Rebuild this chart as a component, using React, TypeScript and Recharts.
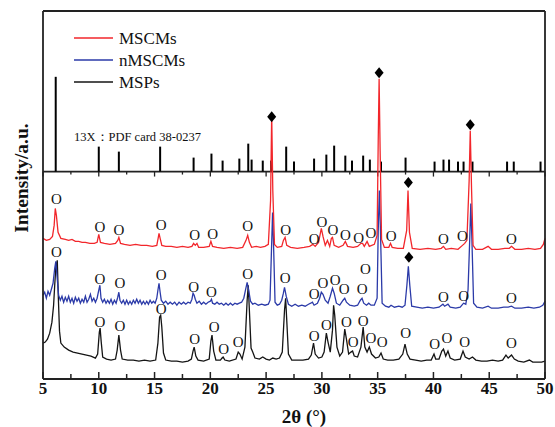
import React from 'react';
import { ComposedChart, Line, Scatter, XAxis, YAxis, ReferenceLine, Label } from 'recharts';

// intensity in arbitrary units
const MSCMS: [number, number][] = [
  [5.0, 141], [5.3, 139], [5.6, 140], [5.85, 143], [6.0, 154], [6.1, 171], [6.2, 164], [6.35, 147], [6.6, 141],
  [7.0, 140], [7.3, 139], [7.6, 140], [7.9, 138], [8.2, 138], [8.5, 137], [8.8, 137], [9.2, 136], [9.6, 136],
  [9.85, 137], [10.0, 145], [10.15, 137], [10.5, 136], [11.0, 135], [11.5, 136], [11.7, 139], [11.8, 142],
  [11.95, 136], [12.3, 135], [12.8, 134], [13.3, 135], [13.8, 134], [14.3, 134], [14.8, 133], [15.2, 134],
  [15.32, 141], [15.4, 146], [15.5, 141], [15.65, 134], [16.0, 133], [16.5, 133], [17.0, 132], [17.5, 133],
  [18.0, 132], [18.35, 133], [18.5, 136], [18.65, 134], [18.8, 136], [18.95, 132], [19.4, 132], [19.9, 133],
  [20.05, 138], [20.2, 133], [20.6, 132], [21.2, 131], [21.8, 132], [22.4, 131], [22.9, 132], [23.2, 139],
  [23.35, 144], [23.5, 137], [23.7, 132], [24.1, 133], [24.5, 132], [24.9, 133], [25.2, 135], [25.4, 179],
  [25.5, 266], [25.6, 189], [25.75, 135], [26.0, 132], [26.4, 133], [26.55, 139], [26.7, 142], [26.85, 134],
  [27.2, 132], [27.8, 131], [28.4, 132], [28.9, 133], [29.2, 135], [29.4, 133], [29.7, 137], [29.95, 151],
  [30.1, 143], [30.3, 134], [30.5, 139], [30.7, 133], [30.85, 141], [30.95, 142], [31.1, 134], [31.5, 132],
  [31.9, 134], [32.1, 138], [32.3, 133], [32.8, 132], [33.2, 133], [33.5, 136], [33.65, 136], [33.8, 133],
  [34.05, 138], [34.25, 133], [34.7, 135], [34.95, 144], [35.05, 239], [35.13, 301], [35.22, 229], [35.35, 140],
  [35.6, 132], [36.0, 132], [36.15, 136], [36.3, 132], [36.8, 131], [37.3, 131], [37.6, 149], [37.72, 189],
  [37.85, 147], [38.1, 131], [38.8, 130], [39.5, 131], [40.2, 130], [40.7, 131], [40.9, 133], [41.1, 130],
  [41.6, 131], [42.2, 130], [42.6, 134], [42.8, 136], [43.0, 139], [43.2, 199], [43.3, 249], [43.42, 189],
  [43.55, 134], [43.8, 130], [44.4, 130], [44.9, 133], [45.2, 130], [45.8, 130], [46.4, 131], [46.8, 131],
  [47.0, 133], [47.3, 130], [47.9, 130], [48.5, 131], [49.1, 130], [49.6, 131], [49.85, 135], [50.0, 141],
];

const NMSCMS: [number, number][] = [
  [5.0, 84], [5.15, 87], [5.3, 81], [5.45, 88], [5.6, 84], [5.75, 90], [5.9, 96], [6.05, 111], [6.15, 118],
  [6.25, 104], [6.4, 84], [6.55, 79], [6.7, 83], [6.85, 77], [7.0, 82], [7.15, 78], [7.3, 83], [7.45, 77],
  [7.6, 81], [7.75, 76], [7.9, 82], [8.05, 78], [8.2, 81], [8.35, 76], [8.5, 80], [8.65, 77], [8.8, 83],
  [8.95, 77], [9.1, 80], [9.25, 85], [9.4, 78], [9.55, 81], [9.7, 77], [9.85, 81], [10.0, 89], [10.1, 94],
  [10.2, 81], [10.35, 77], [10.5, 80], [10.65, 76], [10.8, 79], [10.95, 76], [11.1, 80], [11.25, 75],
  [11.4, 79], [11.55, 76], [11.7, 82], [11.8, 87], [11.9, 79], [12.05, 76], [12.2, 79], [12.35, 75],
  [12.5, 79], [12.65, 75], [12.8, 78], [12.95, 75], [13.1, 79], [13.25, 76], [13.4, 80], [13.55, 76],
  [13.7, 79], [13.85, 75], [14.0, 78], [14.15, 75], [14.3, 78], [14.45, 75], [14.6, 79], [14.75, 76],
  [14.9, 78], [15.05, 76], [15.2, 81], [15.3, 89], [15.4, 96], [15.5, 87], [15.6, 79], [15.8, 76], [16.0, 78],
  [16.2, 75], [16.4, 77], [16.6, 75], [16.8, 77], [17.0, 74], [17.2, 77], [17.4, 75], [17.6, 77], [17.8, 75],
  [18.0, 77], [18.2, 76], [18.35, 80], [18.45, 86], [18.55, 84], [18.65, 80], [18.8, 76], [19.0, 78],
  [19.2, 75], [19.4, 77], [19.6, 75], [19.8, 77], [20.0, 78], [20.1, 80], [20.2, 76], [20.4, 75], [20.6, 77],
  [20.8, 75], [21.0, 76], [21.2, 74], [21.4, 76], [21.6, 74], [21.8, 76], [22.0, 74], [22.2, 76], [22.4, 75],
  [22.6, 76], [22.8, 77], [23.0, 81], [23.15, 89], [23.3, 97], [23.45, 88], [23.6, 78], [23.8, 75], [24.0, 76],
  [24.3, 74], [24.6, 75], [24.9, 74], [25.2, 75], [25.35, 79], [25.48, 129], [25.58, 167], [25.68, 129],
  [25.8, 77], [26.0, 74], [26.2, 75], [26.4, 79], [26.55, 86], [26.65, 92], [26.8, 83], [27.0, 75], [27.3, 73],
  [27.6, 75], [27.9, 73], [28.2, 74], [28.5, 73], [28.8, 75], [29.0, 76], [29.15, 77], [29.3, 74], [29.6, 76],
  [29.8, 81], [29.95, 87], [30.1, 85], [30.3, 79], [30.55, 76], [30.75, 83], [30.95, 91], [31.1, 86],
  [31.3, 76], [31.6, 74], [31.9, 79], [32.05, 81], [32.2, 77], [32.5, 74], [32.9, 73], [33.2, 74], [33.45, 79],
  [33.6, 81], [33.75, 76], [34.0, 74], [34.2, 76], [34.4, 74], [34.7, 74], [34.95, 81], [35.05, 149],
  [35.15, 189], [35.25, 149], [35.4, 76], [35.7, 73], [36.0, 72], [36.2, 74], [36.5, 72], [36.9, 73],
  [37.2, 72], [37.45, 74], [37.62, 94], [37.75, 113], [37.88, 94], [38.05, 73], [38.5, 72], [39.0, 71],
  [39.5, 72], [40.0, 71], [40.5, 72], [40.85, 75], [41.0, 73], [41.3, 75], [41.5, 72], [42.0, 71], [42.4, 72],
  [42.7, 76], [42.9, 75], [43.1, 89], [43.25, 139], [43.35, 176], [43.45, 139], [43.6, 76], [43.9, 72],
  [44.4, 71], [44.9, 73], [45.2, 71], [45.8, 71], [46.3, 72], [46.7, 72], [47.0, 73], [47.3, 71], [47.9, 71],
  [48.5, 72], [49.0, 71], [49.5, 72], [49.8, 74], [50.0, 78],
];

const MSPS: [number, number][] = [
  [5.0, 36], [5.2, 37], [5.4, 40], [5.6, 46], [5.8, 57], [5.95, 74], [6.05, 94], [6.15, 112], [6.28, 119],
  [6.38, 80], [6.48, 48], [6.6, 36], [6.9, 32], [7.3, 29], [7.7, 27], [8.1, 26], [8.5, 25], [8.9, 24],
  [9.3, 23], [9.7, 21], [9.9, 25], [10.05, 47], [10.12, 51], [10.22, 37], [10.35, 22], [10.7, 20], [11.1, 19],
  [11.5, 20], [11.65, 29], [11.8, 44], [11.95, 29], [12.1, 20], [12.6, 19], [13.1, 19], [13.6, 18], [14.1, 19],
  [14.6, 18], [15.1, 19], [15.3, 36], [15.45, 62], [15.55, 64], [15.65, 52], [15.8, 26], [16.0, 19],
  [16.5, 18], [17.0, 18], [17.5, 17], [18.0, 18], [18.3, 20], [18.45, 28], [18.55, 32], [18.7, 23],
  [18.9, 19], [19.4, 18], [19.9, 20], [20.05, 38], [20.15, 44], [20.3, 28], [20.5, 19], [20.9, 19],
  [21.05, 21], [21.15, 22], [21.3, 19], [21.7, 18], [22.3, 20], [22.5, 27], [22.65, 25], [22.85, 20],
  [23.1, 32], [23.3, 79], [23.4, 94], [23.5, 69], [23.65, 31], [23.8, 27], [24.0, 21], [24.4, 20], [24.7, 22],
  [25.0, 20], [25.3, 19], [25.6, 21], [25.9, 20], [26.2, 21], [26.45, 27], [26.65, 69], [26.75, 81],
  [26.85, 59], [27.0, 25], [27.3, 19], [27.8, 19], [28.3, 19], [28.8, 20], [29.05, 24], [29.25, 36],
  [29.4, 25], [29.7, 21], [30.0, 22], [30.2, 27], [30.4, 46], [30.55, 37], [30.75, 27], [30.95, 49],
  [31.05, 74], [31.15, 64], [31.35, 32], [31.6, 23], [31.85, 27], [32.05, 50], [32.2, 40], [32.4, 25],
  [32.6, 27], [32.75, 28], [32.9, 23], [33.2, 22], [33.5, 32], [33.7, 52], [33.85, 32], [34.05, 27],
  [34.25, 32], [34.45, 25], [34.8, 21], [35.1, 22], [35.3, 26], [35.5, 20], [35.9, 19], [36.4, 19],
  [36.9, 20], [37.25, 25], [37.45, 35], [37.65, 25], [37.9, 20], [38.4, 19], [38.9, 18], [39.4, 19],
  [39.8, 19], [40.05, 25], [40.2, 20], [40.5, 20], [40.75, 28], [40.9, 30], [41.1, 23], [41.3, 28],
  [41.5, 21], [41.9, 19], [42.4, 20], [42.65, 28], [42.85, 22], [43.2, 20], [43.5, 22], [43.8, 19],
  [44.3, 18], [44.8, 18], [45.3, 19], [45.8, 18], [46.2, 19], [46.5, 24], [46.7, 21], [47.0, 24],
  [47.25, 20], [47.6, 18], [48.1, 17], [48.6, 19], [48.9, 17], [49.3, 17], [49.7, 17], [50.0, 18],
];

// 13X reference card: [2θ, line height]
const CARD_BASE = 208;
const CARD_LINES: [number, number][] = [
  [6.14, 95], [10.0, 25], [11.8, 20], [15.5, 25], [18.5, 14], [20.1, 18], [21.1, 11], [22.6, 13], [23.4, 28],
  [23.7, 12], [24.7, 11], [25.45, 11], [26.8, 25], [27.5, 10], [29.3, 13], [30.4, 17], [31.1, 26], [32.1, 16],
  [32.7, 11], [33.7, 16], [34.3, 12], [35.3, 10], [37.5, 14], [40.1, 10], [40.9, 12], [41.4, 12], [42.2, 10],
  [42.7, 10], [43.5, 10], [46.6, 10], [47.2, 10], [49.6, 10],
];

const DIAMONDS: [number, number][] = [[25.5, 263], [35.13, 307], [43.3, 255], [37.75, 197], [37.8, 122]];

const MARK_MSCMS: [number, number][] = [
  [6.2, 180], [10.1, 152], [11.8, 149], [15.6, 154], [18.6, 144], [20.2, 145], [23.35, 153], [26.75, 149],
  [29.3, 140], [30.0, 157], [31.0, 149], [32.1, 144], [33.3, 141], [34.4, 146], [36.2, 143], [40.9, 140],
  [42.6, 143], [47.0, 140],
];
const MARK_NMSCMS: [number, number][] = [
  [6.2, 127], [10.1, 100], [11.9, 96], [15.6, 104], [18.5, 92], [20.1, 87], [23.35, 105], [26.7, 101],
  [29.3, 85], [30.1, 96], [31.2, 99], [32.0, 90], [33.6, 90], [33.9, 110], [40.9, 82], [42.7, 83], [47.0, 81],
];
const MARK_MSPS: [number, number][] = [
  [10.1, 57], [11.9, 53], [15.6, 70], [18.6, 40], [20.35, 52], [21.2, 30], [22.5, 37], [29.3, 43], [30.4, 54],
  [32.2, 57], [32.8, 37], [33.7, 58], [34.4, 41], [35.4, 37], [37.5, 46], [40.1, 35], [41.2, 41], [42.8, 37],
  [47.0, 36],
];

const X_TICKS = [5, 7.5, 10, 12.5, 15, 17.5, 20, 22.5, 25, 27.5, 30, 32.5, 35, 37.5, 40, 42.5, 45, 47.5, 50];

const SERIES = [
  { name: 'MSCMs', color: '#f2262b' },
  { name: 'nMSCMs', color: '#2b3aa8' },
  { name: 'MSPs', color: '#151515' },
];

const pts = (arr: [number, number][]) => arr.map(([x, y]) => ({ x, y }));

const FONT = '"Liberation Serif", "Times New Roman", serif';
const AXIS = { stroke: '#222', strokeWidth: 1.8 };

const BottomTick = (props: any) => {
  const { x, y, payload } = props;
  const major = payload.value % 5 === 0;
  const base = y - 1;
  return (
    <g>
      <line x1={x} x2={x} y1={base} y2={base - (major ? 6 : 4)} stroke="#222" strokeWidth={1.5} />
      {major && (
        <text x={x} y={base + 16} textAnchor="middle" fontFamily={FONT} fontWeight="bold" fontSize={17} fill="#111">
          {payload.value}
        </text>
      )}
    </g>
  );
};

const OMark = (props: any) => (
  <text x={props.cx} y={props.cy} textAnchor="middle" dominantBaseline="central" fontFamily={FONT} fontSize={15} fill="#111">
    O
  </text>
);

const Diamond = (props: any) => {
  const { cx, cy } = props;
  return <polygon points={`${cx},${cy - 5.5} ${cx + 4.5},${cy} ${cx},${cy + 5.5} ${cx - 4.5},${cy}`} fill="#000" />;
};

const LegendBox = () => (
  <svg width={130} height={70} style={{ position: 'absolute', left: 74, top: 28 }}>
    {SERIES.map((s, i) => (
      <g key={s.name}>
        <line x1={0} x2={39} y1={10 + i * 22} y2={10 + i * 22} stroke={s.color} strokeWidth={1.3} />
        <text x={45} y={10 + i * 22} dominantBaseline="central" fontFamily={FONT} fontSize={17} fill="#111">
          {s.name}
        </text>
      </g>
    ))}
  </svg>
);

export default function App() {
  return (
    <div style={{ position: 'absolute', left: 0, top: 0, width: 555, height: 427, background: '#fff', fontFamily: FONT }}>
      <ComposedChart width={555} height={427} margin={{ top: 10, right: 9, bottom: 47, left: 42 }}>
        <XAxis
          dataKey="x"
          type="number"
          domain={[5, 50]}
          ticks={X_TICKS}
          height={1}
          tickSize={0}
          tickMargin={0}
          tickLine={false}
          tick={<BottomTick />}
          axisLine={AXIS}
          interval={0}
        >
          <Label value="2θ (°)" position="bottom" offset={30} dx={10} fontFamily={FONT} fontWeight="bold" fontSize={19} fill="#111" />
        </XAxis>
        <XAxis xAxisId="top" orientation="top" type="number" domain={[5, 50]} height={1} tick={false} tickLine={false} axisLine={AXIS} />
        <YAxis type="number" domain={[0, 369]} width={1} tick={false} tickLine={false} axisLine={AXIS} />
        <YAxis yAxisId="r" orientation="right" type="number" domain={[0, 369]} width={1} tick={false} tickLine={false} axisLine={AXIS} />

        <ReferenceLine y={CARD_BASE} stroke="#222" strokeWidth={1.8} />
        {X_TICKS.map((t) => (
          <ReferenceLine
            key={'dt' + t}
            segment={[{ x: t, y: CARD_BASE }, { x: t, y: CARD_BASE - (t % 5 === 0 ? 5 : 3) }]}
            stroke="#222"
            strokeWidth={1.3}
          />
        ))}
        {CARD_LINES.map(([x, h]) => (
          <ReferenceLine key={'c' + x} segment={[{ x, y: CARD_BASE }, { x, y: CARD_BASE + h }]} stroke="#000" strokeWidth={2} />
        ))}

        <Line data={pts(MSPS)} dataKey="y" type="linear" stroke={SERIES[2].color} strokeWidth={1.3} dot={false} isAnimationActive={false} />
        <Line data={pts(NMSCMS)} dataKey="y" type="linear" stroke={SERIES[1].color} strokeWidth={1.3} dot={false} isAnimationActive={false} />
        <Line data={pts(MSCMS)} dataKey="y" type="linear" stroke={SERIES[0].color} strokeWidth={1.3} dot={false} isAnimationActive={false} />

        <Scatter data={pts(MARK_MSCMS)} dataKey="y" shape={<OMark />} isAnimationActive={false} />
        <Scatter data={pts(MARK_NMSCMS)} dataKey="y" shape={<OMark />} isAnimationActive={false} />
        <Scatter data={pts(MARK_MSPS)} dataKey="y" shape={<OMark />} isAnimationActive={false} />
        <Scatter data={pts(DIAMONDS)} dataKey="y" shape={<Diamond />} isAnimationActive={false} />
      </ComposedChart>
      <LegendBox />
      <div style={{ position: 'absolute', left: 74, top: 129, fontSize: 12.5, color: '#111', whiteSpace: 'nowrap', lineHeight: '16px' }}>
        13X：PDF card 38-0237
      </div>
      <div
        style={{
          position: 'absolute',
          left: 22,
          top: 178,
          transform: 'translate(-50%, -50%) rotate(-90deg)',
          fontSize: 19.5,
          fontWeight: 'bold',
          whiteSpace: 'nowrap',
          color: '#111',
        }}
      >
        Intensity/a.u.
      </div>
    </div>
  );
}
